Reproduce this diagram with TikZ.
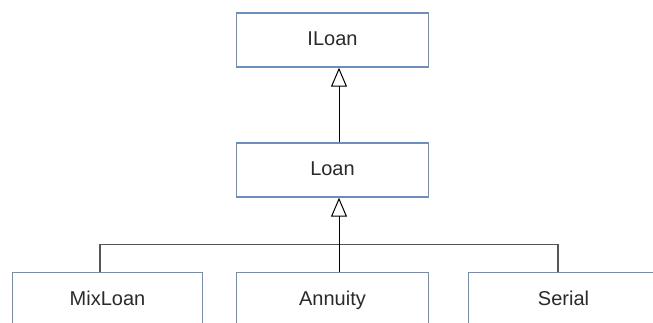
\documentclass[tikz,border=0pt]{standalone}
\usepackage{fontspec}
\setmainfont{Liberation Sans}
\usetikzlibrary{arrows.meta}
\definecolor{boxblue}{HTML}{6C8EBF}
\definecolor{txt}{HTML}{2A2A2A}
\definecolor{busgray}{HTML}{555555}
\tikzset{
  cls/.style={draw=boxblue, line width=1.4pt, fill=white, minimum width=192pt,
    minimum height=54pt, inner sep=0pt, text height=15pt, text depth=4pt,
    font=\fontsize{20}{24}\selectfont, text=txt},
  gen/.style={draw=black, line width=1pt,
    -{Triangle[open, width=16pt, length=19pt, fill=white, line width=1pt]}},
  busline/.style={draw=busgray, line width=1.6pt}
}
\begin{document}
\begin{tikzpicture}[x=1pt,y=-1pt]
\useasboundingbox (0,0) rectangle (653,322);
\clip (0,0) rectangle (653,322);
\fill[white] (0,0) rectangle (653,322);
\node[cls] (ILoan) at (332.5,40) {ILoan};
\node[cls] (Loan) at (332.5,170) {Loan};
\node[cls, minimum width=190pt] (MixLoan) at (107.5,299.5) {MixLoan};
\node[cls] (Annuity) at (332.5,299.5) {Annuity};
\node[cls, minimum width=190pt] (Serial) at (563.5,299.5) {Serial};
\coordinate (busL) at (100,244.3);
\coordinate (busR) at (558,244.3);
% bus connectors
\draw[busline] (MixLoan.north -| busL) -- (busL) -- (busR) -- (Serial.north -| busR);
% generalisations
\draw[gen] ([xshift=6.5pt]Annuity.north) -- ([xshift=6.5pt]Loan.south);
\draw[gen] ([xshift=6.5pt]Loan.north) -- ([xshift=6.5pt]ILoan.south);
\end{tikzpicture}
\end{document}
